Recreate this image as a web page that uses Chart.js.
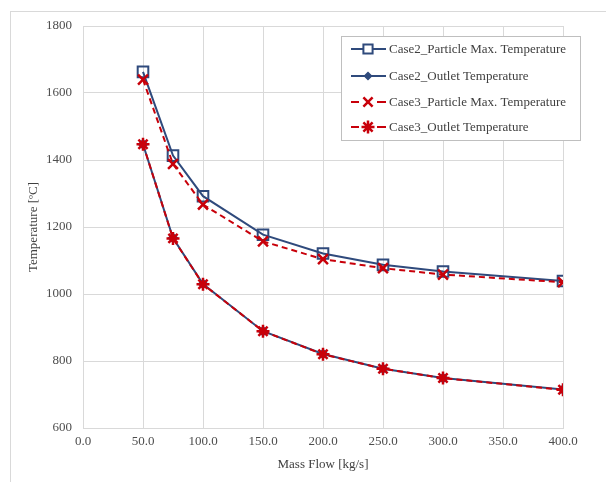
<!DOCTYPE html>
<html>
<head>
<meta charset="utf-8">
<script src="https://cdn.jsdelivr.net/npm/chart.js@4.4.1/dist/chart.umd.min.js"></script>
<style>
  html, body { margin: 0; padding: 0; background: #ffffff; }
  #wrap { position: relative; width: 606px; height: 482px; overflow: hidden; }
  #frame { position: absolute; left: 10px; top: 11px; width: 620px; height: 500px;
           border-top: 1px solid #d9d9d9; border-left: 1px solid #d9d9d9; box-sizing: border-box; }
  canvas { position: absolute; left: 0; top: 0; }
</style>
</head>
<body>
<div id="wrap">
  <div id="frame"></div>
  <canvas id="c" width="606" height="482"></canvas>
</div>
<script>
// ---- Data ----
const massFlow = [50, 75, 100, 150, 200, 250, 300, 400];
const case2ParticleMax = [1663, 1413, 1292, 1177, 1121, 1087, 1067, 1039];
const case2Outlet      = [1447, 1167, 1030, 889, 821, 777, 749, 715];
const case3ParticleMax = [1640, 1388, 1267, 1157, 1104, 1077, 1058, 1035];
const case3Outlet      = [1447, 1166, 1029, 889, 820, 777, 749, 714];
const seriesNames = [
  'Case2_Particle Max. Temperature',
  'Case2_Outlet Temperature',
  'Case3_Particle Max. Temperature',
  'Case3_Outlet Temperature'
];
const yTicks = [600, 800, 1000, 1200, 1400, 1600, 1800];
const xTicks = [0, 50, 100, 150, 200, 250, 300, 350, 400];

const NAVY = '#2f4a7c';
const RED = '#c8000a';
const SERIF = "'Liberation Serif', 'Times New Roman', serif";

function pts(ys) { return massFlow.map((x, i) => ({ x: x, y: ys[i] })); }

const styles = [
  { color: NAVY, dash: [], pointStyle: 'rect', radius: 7.5, fill: 'rgba(255,255,255,0)', pbw: 2 },
  { color: NAVY, dash: [], pointStyle: 'rectRot', radius: 4.5, fill: NAVY, pbw: 1.5 },
  { color: RED, dash: [6, 4], pointStyle: 'crossRot', radius: 7, fill: RED, pbw: 2.5 },
  { color: RED, dash: [6, 4], pointStyle: 'star', radius: 6.5, fill: RED, pbw: 2.5 }
];
const values = [case2ParticleMax, case2Outlet, case3ParticleMax, case3Outlet];

const datasets = values.map((v, i) => ({
  label: seriesNames[i],
  data: pts(v),
  borderColor: styles[i].color,
  backgroundColor: styles[i].fill,
  borderWidth: 2,
  borderDash: styles[i].dash,
  pointStyle: styles[i].pointStyle,
  pointRadius: styles[i].radius,
  pointBorderWidth: styles[i].pbw,
  pointBorderColor: styles[i].color,
  pointBackgroundColor: styles[i].fill,
  tension: 0,
  order: i < 2 ? 1 : 0
}));

function drawMarker(ctx, style, r, x, y) {
  ctx.save();
  ctx.beginPath();
  if (style === 'rect') {
    const s = Math.SQRT1_2 * r;
    ctx.rect(x - s, y - s, 2 * s, 2 * s);
    ctx.fillStyle = '#ffffff';
    ctx.fill();
    ctx.stroke();
  } else if (style === 'rectRot') {
    ctx.moveTo(x - r, y); ctx.lineTo(x, y - r); ctx.lineTo(x + r, y); ctx.lineTo(x, y + r);
    ctx.closePath();
    ctx.fill();
    ctx.stroke();
  } else if (style === 'crossRot' || style === 'star') {
    const d = Math.SQRT1_2 * r;
    ctx.moveTo(x - d, y - d); ctx.lineTo(x + d, y + d);
    ctx.moveTo(x - d, y + d); ctx.lineTo(x + d, y - d);
    if (style === 'star') {
      ctx.moveTo(x - r, y); ctx.lineTo(x + r, y);
      ctx.moveTo(x, y - r); ctx.lineTo(x, y + r);
    }
    ctx.stroke();
  }
  ctx.restore();
}

const boxLegend = {
  id: 'boxLegend',
  afterDraw(chart) {
    const ctx = chart.ctx;
    const bx = 341, by = 36, bw = 239, bh = 104;
    ctx.save();
    ctx.fillStyle = '#ffffff';
    ctx.fillRect(bx, by, bw, bh);
    ctx.strokeStyle = '#bfbfbf';
    ctx.lineWidth = 1;
    ctx.strokeRect(bx + 0.5, by + 0.5, bw, bh);
    const rows = [13, 40, 66, 91];
    ctx.font = '13px ' + SERIF;
    ctx.textBaseline = 'middle';
    ctx.textAlign = 'left';
    for (let i = 0; i < 4; i++) {
      const s = styles[i];
      const y = by + rows[i];
      ctx.strokeStyle = s.color;
      ctx.fillStyle = s.fill;
      ctx.lineWidth = 2;
      ctx.beginPath();
      if (s.dash.length) {
        ctx.moveTo(bx + 10, y); ctx.lineTo(bx + 18, y);
        ctx.moveTo(bx + 36, y); ctx.lineTo(bx + 45, y);
      } else {
        ctx.moveTo(bx + 10, y); ctx.lineTo(bx + 45, y);
      }
      ctx.stroke();
      ctx.lineWidth = s.pbw;
      ctx.fillStyle = s.fill === 'rgba(255,255,255,0)' ? '#ffffff' : s.fill;
      drawMarker(ctx, s.pointStyle, s.pointStyle === 'rectRot' ? 3.5 : 6.5, bx + 27, y);
      ctx.fillStyle = '#404040';
      ctx.fillText(seriesNames[i], bx + 48, y + 1);
    }
    ctx.restore();
  }
};

new Chart(document.getElementById('c'), {
  type: 'line',
  data: { datasets: datasets },
  plugins: [boxLegend],
  options: {
    responsive: false,
    animation: false,
    devicePixelRatio: 1,
    layout: { padding: { top: 26, right: 43, left: 0, bottom: 0 } },
    plugins: { legend: { display: false }, tooltip: { enabled: false } },
    scales: {
      x: {
        type: 'linear',
        min: xTicks[0],
        max: xTicks[xTicks.length - 1],
        afterBuildTicks: (s) => { s.ticks = xTicks.map(v => ({ value: v })); },
        afterFit: (s) => { s.height = 54; },
        ticks: {
          callback: (v) => Number(v).toFixed(1),
          font: { family: SERIF, size: 13 },
          color: '#4d4d4d',
          padding: 6,
          maxRotation: 0
        },
        grid: { color: '#d9d9d9', drawTicks: false, lineWidth: 1 },
        border: { color: '#d9d9d9' },
        title: {
          display: true,
          text: 'Mass Flow [kg/s]',
          font: { family: SERIF, size: 13 },
          color: '#404040',
          padding: { top: 0, bottom: 10 }
        }
      },
      y: {
        type: 'linear',
        min: yTicks[0],
        max: yTicks[yTicks.length - 1],
        afterBuildTicks: (s) => { s.ticks = yTicks.map(v => ({ value: v })); },
        afterFit: (s) => { s.width = 83; },
        ticks: {
          callback: (v) => String(v),
          font: { family: SERIF, size: 13 },
          color: '#4d4d4d',
          padding: 11
        },
        grid: { color: '#d9d9d9', drawTicks: false, lineWidth: 1 },
        border: { color: '#d9d9d9' },
        title: {
          display: true,
          text: 'Temperature [ºC]',
          font: { family: SERIF, size: 13 },
          color: '#404040',
          padding: { top: 26, bottom: 0 }
        }
      }
    }
  }
});
</script>
</body>
</html>
